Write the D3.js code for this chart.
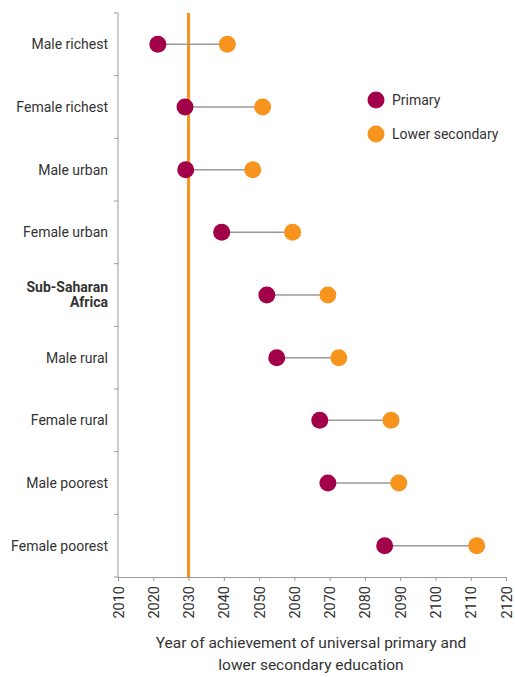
<!DOCTYPE html>
<html>
<head>
<meta charset="utf-8">
<script src="https://cdn.jsdelivr.net/npm/d3@7"></script>
<style>
  body { margin: 0; background: #fff; }
  svg text { font-family: Roboto, "Open Sans", sans-serif; fill: #333; }
</style>
</head>
<body>
<svg id="chart" width="515" height="677"></svg>
<script>
// data
var groups = ["Male richest", "Female richest", "Male urban", "Female urban",
  "Sub-Saharan Africa", "Male rural", "Female rural", "Male poorest", "Female poorest"];
var primary = [2021.3, 2029, 2029.2, 2039.4, 2052.2, 2055, 2067.2, 2069.5, 2085.6];
var lowerSecondary = [2041, 2051, 2048.2, 2059.5, 2069.5, 2072.6, 2087.4, 2089.6, 2111.7];
var yearTicks = d3.range(2010, 2121, 10);
var targetYear = 2030;
var seriesNames = ["Primary", "Lower secondary"];
var colors = { primary: "#A3004A", lower: "#F7941D" };

var svg = d3.select("#chart");
var margin = { left: 118, right: 9, top: 13, bottom: 100 };
var W = 515, H = 677;

var x = d3.scaleLinear().domain([2010, 2120]).range([margin.left, W - margin.right]);
var y = d3.scaleBand().domain(groups).range([margin.top, H - margin.bottom]);

var rows = groups.map(function (g, i) {
  return { group: g, p: primary[i], s: lowerSecondary[i] };
});

// x axis
var xAxis = svg.append("g")
  .attr("transform", "translate(0," + (H - margin.bottom) + ")")
  .call(d3.axisBottom(x).tickValues(yearTicks).tickFormat(d3.format("d")).tickSize(4).tickSizeOuter(0));
xAxis.select(".domain").attr("stroke", "#999");
xAxis.selectAll(".tick line").attr("stroke", "#999");
xAxis.selectAll(".tick text")
  .attr("transform", "rotate(-90)")
  .attr("x", -9).attr("y", 0).attr("dy", "0.35em")
  .style("text-anchor", "end")
  .style("font-size", "14.5px")
  .attr("fill", "#333");

// y axis (ticks on band edges)
var yAxisG = svg.append("g").attr("transform", "translate(" + margin.left + ",0)");
yAxisG.append("line")
  .attr("y1", margin.top).attr("y2", H - margin.bottom)
  .attr("stroke", "#999");
yAxisG.selectAll(".ytick")
  .data(groups.concat([null]))
  .enter().append("line")
  .attr("class", "ytick")
  .attr("x1", -4).attr("x2", 0)
  .attr("y1", function (d, i) { return margin.top + i * y.step(); })
  .attr("y2", function (d, i) { return margin.top + i * y.step(); })
  .attr("stroke", "#999");

// y labels
var labels = svg.append("g").selectAll("text")
  .data(groups)
  .enter().append("text")
  .attr("x", margin.left - 10)
  .attr("y", function (d) { return y(d) + y.bandwidth() / 2; })
  .style("text-anchor", "end")
  .style("font-size", "14px");
labels.each(function (d) {
  var t = d3.select(this);
  if (d === "Sub-Saharan Africa") {
    t.style("font-weight", "bold").attr("fill", "#111");
    t.append("tspan").attr("x", margin.left - 10).attr("dy", "-0.25em").text("Sub-Saharan");
    t.append("tspan").attr("x", margin.left - 10).attr("dy", "1.1em").text("Africa");
  } else {
    t.attr("dy", "0.35em").text(d);
  }
});

// target line
svg.append("line")
  .attr("x1", x(targetYear)).attr("x2", x(targetYear))
  .attr("y1", margin.top).attr("y2", H - margin.bottom)
  .attr("stroke", colors.lower).attr("stroke-width", 3);

// dumbbells
var row = svg.append("g").selectAll("g")
  .data(rows)
  .enter().append("g")
  .attr("transform", function (d) { return "translate(0," + (y(d.group) + y.bandwidth() / 2) + ")"; });
row.append("line")
  .attr("x1", function (d) { return x(d.p); })
  .attr("x2", function (d) { return x(d.s); })
  .attr("stroke", "#9a9a9a").attr("stroke-width", 1.5);
row.append("circle")
  .attr("cx", function (d) { return x(d.p); })
  .attr("r", 8.5).attr("fill", colors.primary);
row.append("circle")
  .attr("cx", function (d) { return x(d.s); })
  .attr("r", 8.5).attr("fill", colors.lower);

// legend
var legend = svg.append("g").selectAll("g")
  .data(seriesNames)
  .enter().append("g")
  .attr("transform", function (d, i) { return "translate(376," + (100 + i * 34) + ")"; });
legend.append("circle")
  .attr("r", 8.5)
  .attr("fill", function (d, i) { return i === 0 ? colors.primary : colors.lower; });
legend.append("text")
  .attr("x", 16).attr("dy", "0.35em")
  .style("font-size", "14px")
  .text(function (d) { return d; });

// axis title
var title = svg.append("text")
  .attr("x", 311).attr("y", 648)
  .style("text-anchor", "middle")
  .style("font-size", "15.5px");
title.append("tspan").attr("x", 311).text("Year of achievement of universal primary and");
title.append("tspan").attr("x", 311).attr("dy", "1.4em").text("lower secondary education");
</script>
</body>
</html>
